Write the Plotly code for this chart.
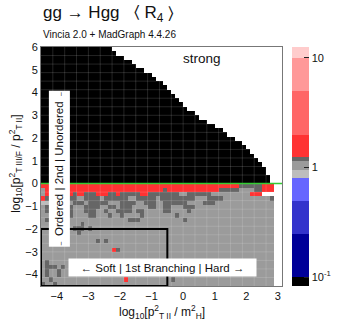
import numpy as np
import plotly.graph_objects as go

# ---- data -----------------------------------------------------------------
# grid: 60 columns in log10(pT_II^2/mH^2), 56 rows in log10(pT^2 ratio)
N_COLS = 60
X_START, X_STEP = -4.5, 0.125
Y_START, Y_STEP = -4.5, 0.1875

# rows above the ordering line (top row first): number of black cells
black_cols = [18, 19, 21, 23, 24, 26, 28, 29, 31, 32, 33, 34, 35, 36, 37, 39,
              40, 42, 44, 46, 47, 49, 51, 52, 53, 54, 55, 56, 57, 57, 58, 58]

# rows below the ordering line (top row first), run-length coded
# R = red (1.25-2), D = dark grey (1.15-1.25), G = grey (0.95-1.15), L = light grey
lower_rows = [
    "R50 D6 R3 .1",
    "G1 R30 D1 R13 D5 G4 D2 R3 .1",
    "G1 R3 D2 R2 D1 R2 D3 R3 D2 R1 D5 R2 D8 G2 D6 G10 R3 .1",
    "R1 D2 G1 D5 G2 D4 G1 D6 G2 D5 G1 D9 G3 D4 G10 G2 D1 .1",
    "L2 D4 G2 D3 G1 D5 G3 D4 G2 D3 G2 D6 G4 D3 G15 .1",
    "G1 D3 G2 D2 G3 D4 G2 D2 G1 D3 G4 D2 G2 D2 G3 D3 G20 .1",
    "G1 D1 G1 D2 G2 D1 G3 D3 G2 D1 G2 D4 G1 D2 G5 D2 G4 D1 G21 .1",
    "G2 D1 G3 D2 G4 D2 G3 D1 G2 D1 G4 D1 G8 D1 G24 .1",
    "G1 D1 G4 D1 G15 D3 G11 D1 G22 .1",
    "G4 D1 G5 D1 G48 .1",
    "G8 D3 G1 D1 G46 .1",
    "G6 D1 G2 D1 G49 .1",
    "G59 .1",
    "G14 D1 G1 D1 G42 .1",
    "G59 .1",
    "G18 R1 D1 G39 .1",
    "G59 .1",
    "G59 .1",
    "G1 D1 G57 .1",
    "G1 D2 D1 G1 D1 G53 .1",
    "G1 D1 G2 D1 G54 .1",
    "G1 D1 G2 D1 G54 .1",
    "G2 D1 G18 R1 G11 D1 G25 .1",
    "D1 G2 D1 G55 .1",
]

level_values = {"K": 0.05, "L": 0.88, "G": 1.0, "D": 1.2, "R": 1.5}

# colour bands of the scale
band_edges = [0.1, 0.25, 0.5, 0.8, 0.95, 1.15, 1.25, 2.0, 5.0, 10.0]
band_colors = ["#000000", "#000099", "#3333cc", "#6666ff", "#bdbdbd", "#9b9b9b",
               "#666666", "#ff3333", "#ff6666", "#ff9999", "#ffcccc"]
Z_MIN, Z_MAX = -1.08, 1.10

# colour bar ticks
cb_major = [0.1, 1, 10]
cb_major_text = ["10<sup>-1</sup>", "1", "10"]
cb_minor = [0.2, 0.3, 0.4, 0.5, 0.6, 0.7, 0.8, 0.9, 2, 3, 4, 5, 6, 7, 8, 9, 11, 12]


def expand(rle):
    out = ""
    for tok in rle.split():
        out += tok[0] * int(tok[1:])
    return out.ljust(N_COLS, ".")[:N_COLS]


rows = ["K" * n + "." * (N_COLS - n) for n in black_cols] + [expand(r) for r in lower_rows]
z = [[np.log10(level_values[c]) if c in level_values else None for c in row]
     for row in reversed(rows)]

# stepped colour scale
stops = [Z_MIN] + [np.log10(b) for b in band_edges] + [Z_MAX]
colorscale = []
for i, col in enumerate(band_colors):
    lo = (stops[i] - Z_MIN) / (Z_MAX - Z_MIN)
    hi = (stops[i + 1] - Z_MIN) / (Z_MAX - Z_MIN)
    colorscale += [[lo, col], [hi, col]]

FONT = "Liberation Sans, Arial, sans-serif"
CB_RIGHT = 1.11  # right edge of the colour bar, in paper units

fig = go.Figure()
fig.add_trace(go.Heatmap(
    z=z, x0=X_START + X_STEP / 2, dx=X_STEP, y0=Y_START + Y_STEP / 2, dy=Y_STEP,
    colorscale=colorscale, zmin=Z_MIN, zmax=Z_MAX, hoverinfo="skip",
    colorbar=dict(x=1.043, xanchor="left", y=0.5, yanchor="middle", len=1.0,
                  thickness=17, xpad=0, ypad=0, outlinewidth=0,
                  tickmode="array", tickvals=[np.log10(v) for v in cb_major],
                  ticktext=cb_major_text,
                  ticks="inside", ticklen=5, tickcolor="#222",
                  tickfont=dict(family=FONT, size=11, color="#111")),
))

# minor ticks of the colour bar
for v in cb_minor:
    yp = (np.log10(v) - Z_MIN) / (Z_MAX - Z_MIN)
    fig.add_shape(type="line", xref="paper", yref="paper", x0=CB_RIGHT - 3 / 255, x1=CB_RIGHT,
                  y0=yp, y1=yp, line=dict(color="#222", width=1))

# faint rendering seams of the cell grid, as in the original raster
seam = dict(color="rgba(255,255,255,0.14)", width=1)
for xs in np.arange(X_START + 3 * X_STEP, 3.0, 3 * X_STEP):
    fig.add_shape(type="line", x0=xs, x1=xs, yref="paper", y0=0, y1=1, line=seam, layer="above")
for ys in np.arange(Y_START + 2 * Y_STEP, 6.0, 2 * Y_STEP):
    fig.add_shape(type="line", xref="paper", x0=0, x1=1, y0=ys, y1=ys, line=seam, layer="above")

# ordered/unordered boundary and the soft region box
fig.add_shape(type="line", xref="paper", x0=0, x1=1, yref="y", y0=0, y1=0,
              line=dict(color="#33cc33", width=1.5))
fig.add_shape(type="rect", x0=-4.5, x1=-0.5, y0=-4.5, y1=-2.0,
              line=dict(color="black", width=2))
fig.add_shape(type="line", xref="paper", x0=CB_RIGHT, x1=CB_RIGHT, yref="paper", y0=0, y1=1,
              line=dict(color="#333", width=1))

ann = dict(showarrow=False, xref="paper", yref="paper", xanchor="center",
           yanchor="middle", font=dict(family=FONT, color="#111"))
fig.add_annotation(ann, x=0, y=1.138, xanchor="left",
                   text="gg \u2192 Hgg   \u2329 R<sub>4</sub> \u232a", font_size=17)
fig.add_annotation(ann, x=0, y=1.053, xanchor="left",
                   text="Vincia 2.0 + MadGraph 4.4.26", font_size=10)
fig.add_annotation(ann, x=0.666, y=0.95, text="strong", font_size=13.5)
fig.add_annotation(ann, x=0.503, y=0.077,
                   text="\u2190 Soft | 1st Branching | Hard \u2192", font_size=11.5,
                   bgcolor="white", width=185, height=15)
fig.add_annotation(ann, x=0.078, y=0.492, textangle=-90,
                   text="\u2190 Ordered | 2nd | Unordered \u2192", font_size=11.5,
                   bgcolor="white", width=153, height=18)
fig.add_annotation(ann, x=0.5, y=-0.11,
                   text="log<sub>10</sub>[p<sup>2</sup><sub>T II</sub> / m<sup>2</sup><sub>H</sub>]",
                   font_size=12)
fig.add_annotation(ann, x=-0.105, y=0.51, textangle=-90,
                   text="log<sub>10</sub>[p<sup>2</sup><sub>T III/F</sub> / p<sup>2</sup><sub>T II</sub>]",
                   font_size=12)

axis = dict(showgrid=False, zeroline=False, showline=True, mirror=True,
            linecolor="#777", linewidth=1, ticks="",
            tickfont=dict(family=FONT, size=11, color="#111"))
fig.update_xaxes(axis, range=[-4.5, 3.13], tickvals=list(range(-4, 4)))
fig.update_yaxes(axis, range=[-4.5, 6.0], tickvals=list(range(-4, 7)))
fig.update_layout(width=349, height=328, margin=dict(l=41, r=53, t=47, b=42),
                  paper_bgcolor="white", plot_bgcolor="white", showlegend=False)

# the page body margin would shift the figure by 8 px
fig.write_html("out.html", config={"displayModeBar": False},
               post_script="document.body.style.margin='0px';")
